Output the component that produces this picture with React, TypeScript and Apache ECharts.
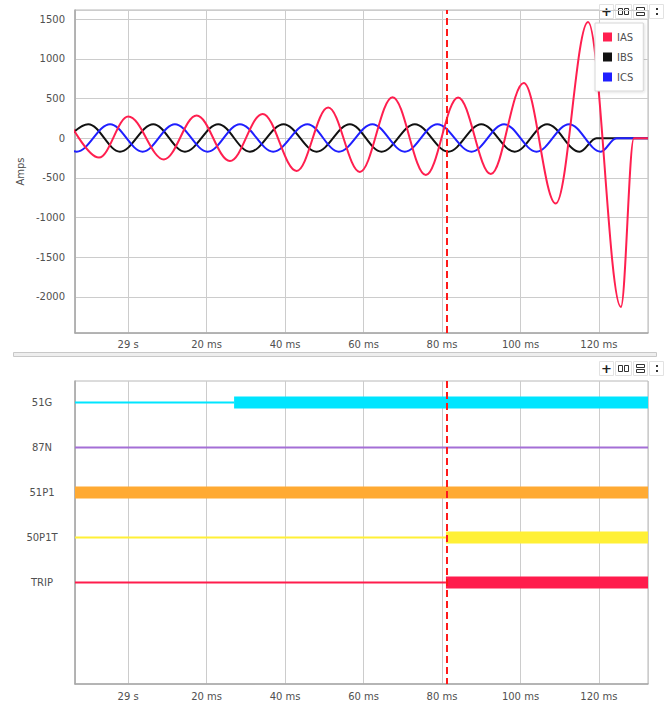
import React, { useEffect, useRef } from 'react';
import * as echarts from 'echarts';

// ---- time axis (ms) ----
const X_MIN = -13.55;
const X_MAX = 132.5;
const ZERO_LABEL = '29 s';
const CURSOR_MS = 81.1;

// ---- analog channels: [time ms, amps] read at extrema / flat points ----
const IAS_NAME = 'IAS';
const IBS_NAME = 'IBS';
const ICS_NAME = 'ICS';

const IAS: [number, number][] = [
  [-15.7, 265], [-7.44, -245], [0.03, 273], [9.12, -268], [17.45, 286],
  [25.94, -288], [34.27, 306], [42.93, -413], [50.98, 385], [59.06, -425],
  [67.39, 515], [75.87, -465], [84.1, 514], [92.43, -453], [100.84, 695],
  [108.99, -823], [117.22, 1463], [125.59, -2127], [128.9, 0], [132.5, 0],
];

const IBS: [number, number][] = [
  [-18.45, -170], [-10.17, 175], [-2.09, -170], [6.39, 175], [14.47, -170],
  [22.96, 175], [31.03, -170], [39.6, 175], [48.03, -170], [56.51, 175],
  [64.59, -170], [73.07, 175], [81.6, -170], [90.0, 175], [98.52, -170],
  [106.78, 175], [115.08, -172], [119.36, 0], [132.5, 0],
];

const ICS: [number, number][] = [
  [-21.4, 175], [-13.12, -170], [-4.61, 175], [3.69, -170], [11.92, 175],
  [20.25, -170], [28.48, 175], [36.97, -170], [45.68, 175], [53.71, -170],
  [62.24, 175], [70.52, -170], [78.8, 175], [87.52, -170], [95.82, 175],
  [104.08, -170], [112.38, 175], [120.46, -170], [124.46, 0], [132.5, 0],
];

const Y_MIN = -2455;
const Y_MAX = 1615;

// ---- digital channels: transitions [time ms, state] ----
const SIGNALS = ['51G', '87N', '51P1', '50P1T', 'TRIP'];
const SIG_51G: [number, number][] = [[-13.55, 0], [27.0, 1]];
const SIG_87N: [number, number][] = [[-13.55, 0]];
const SIG_51P1: [number, number][] = [[-13.55, 1]];
const SIG_50P1T: [number, number][] = [[-13.55, 0], [81.0, 1]];
const SIG_TRIP: [number, number][] = [[-13.55, 0], [81.0, 1]];
const SIGNAL_STATES = [SIG_51G, SIG_87N, SIG_51P1, SIG_50P1T, SIG_TRIP];
const SIGNAL_COLORS = ['#00e5ff', '#a46fd6', '#ffaa33', '#fff036', '#ff1c4c'];

const FONT = '"DejaVu Sans", sans-serif';
const LABEL_COLOR = '#505050';
const GRID_LINE = '#cccccc';
const AXIS_LINE = '#a8a8a8';

const xAxisFor = (gridIndex: number, margin: number) => ({
  type: 'value',
  gridIndex,
  min: X_MIN,
  max: X_MAX,
  splitNumber: 7,
  axisLine: { show: true, onZero: false, lineStyle: { color: AXIS_LINE, width: 1.5 } },
  axisTick: { show: false },
  axisLabel: {
    color: LABEL_COLOR,
    fontSize: 10,
    fontFamily: FONT,
    margin,
    showMinLabel: false,
    showMaxLabel: false,
    formatter: (v: number) => (Math.abs(v) < 1e-9 ? ZERO_LABEL : `${v} ms`),
  },
  splitLine: { show: true, lineStyle: { color: GRID_LINE, width: 1 } },
});

const cursorMarkLine = {
  silent: true,
  symbol: ['none', 'none'],
  label: { show: false },
  z: 10,
  lineStyle: { color: '#ff1a1a', type: [7, 4], width: 2 },
  data: [{ xAxis: CURSOR_MS }],
};

const toolboxGraphics = (y0: number) => [
  { type: 'rect', shape: { x: 599.5, y: y0 + 0.5, width: 14, height: 14 }, style: { fill: '#fff', stroke: '#e2e2e2', lineWidth: 1 } },
  { type: 'text', x: 606.5, y: y0 + 7.5, style: { text: '+', fill: '#222', font: 'bold 13px "DejaVu Sans"', align: 'center', verticalAlign: 'middle' } },
  { type: 'rect', shape: { x: 615.5, y: y0 + 0.5, width: 16, height: 14 }, style: { fill: '#fff', stroke: '#e2e2e2', lineWidth: 1 } },
  { type: 'rect', shape: { x: 618.5, y: y0 + 4.5, width: 4, height: 6 }, style: { fill: 'none', stroke: '#333', lineWidth: 1 } },
  { type: 'rect', shape: { x: 624.5, y: y0 + 4.5, width: 4, height: 6 }, style: { fill: 'none', stroke: '#333', lineWidth: 1 } },
  { type: 'rect', shape: { x: 633.5, y: y0 + 0.5, width: 14, height: 14 }, style: { fill: '#fff', stroke: '#e2e2e2', lineWidth: 1 } },
  { type: 'rect', shape: { x: 636.5, y: y0 + 3.5, width: 8, height: 3 }, style: { fill: 'none', stroke: '#333', lineWidth: 1 } },
  { type: 'rect', shape: { x: 636.5, y: y0 + 8.5, width: 8, height: 3 }, style: { fill: 'none', stroke: '#333', lineWidth: 1 } },
  { type: 'rect', shape: { x: 649.5, y: y0 + 0.5, width: 14, height: 14 }, style: { fill: '#fff', stroke: '#e2e2e2', lineWidth: 1 } },
  { type: 'rect', shape: { x: 656, y: y0 + 4, width: 2, height: 2 }, style: { fill: '#333' } },
  { type: 'rect', shape: { x: 656, y: y0 + 9, width: 2, height: 2 }, style: { fill: '#333' } },
];

function buildSignalSeries(): any[] {
  const out: any[] = [];
  SIGNAL_STATES.forEach((states, i) => {
    const row = i + 1;
    states.forEach(([t, s], k) => {
      const tEnd = k + 1 < states.length ? states[k + 1][0] : X_MAX;
      out.push({
        type: 'line',
        name: `${SIGNALS[i]}-${k}`,
        xAxisIndex: 1,
        yAxisIndex: 1,
        symbol: 'none',
        showSymbol: false,
        silent: true,
        color: SIGNAL_COLORS[i],
        lineStyle: { color: SIGNAL_COLORS[i], width: s ? 12 : 2, cap: 'butt' },
        data: [[t, row], [tEnd, row]],
      });
    });
  });
  out[out.length - 1].markLine = cursorMarkLine;
  return out;
}

export default function App() {
  const ref = useRef<HTMLDivElement>(null);

  useEffect(() => {
    if (!ref.current) return;
    const chart = echarts.init(ref.current, null, { renderer: 'svg' });

    const wave = (name: string, color: string, data: [number, number][], extra: any = {}) => ({
      type: 'line',
      name,
      xAxisIndex: 0,
      yAxisIndex: 0,
      color,
      symbol: 'none',
      showSymbol: false,
      smooth: 0.36,
      smoothMonotone: 'x',
      lineStyle: { color, width: 2 },
      data,
      ...extra,
    });

    chart.setOption({
      animation: false,
      backgroundColor: '#ffffff',
      textStyle: { fontFamily: FONT },
      grid: [
        { left: 75, top: 10, width: 573, height: 323, show: true, borderColor: '#b8b8b8', borderWidth: 1, backgroundColor: 'transparent' },
        { left: 75, top: 381, width: 573, height: 303, show: true, borderColor: '#b8b8b8', borderWidth: 1, backgroundColor: 'transparent' },
      ],
      legend: {
        data: [IAS_NAME, IBS_NAME, ICS_NAME],
        orient: 'vertical',
        left: 595,
        top: 23,
        icon: 'rect',
        itemWidth: 9,
        itemHeight: 9,
        itemGap: 10,
        padding: [9, 10, 9, 8],
        backgroundColor: '#ffffff',
        borderColor: '#d6d6d6',
        borderWidth: 1,
        shadowBlur: 3,
        shadowColor: 'rgba(0,0,0,0.12)',
        shadowOffsetX: 1,
        shadowOffsetY: 1,
        selectedMode: false,
        textStyle: { color: LABEL_COLOR, fontSize: 10, fontFamily: FONT },
      },
      xAxis: [xAxisFor(0, 6), xAxisFor(1, 7)],
      yAxis: [
        {
          type: 'value',
          gridIndex: 0,
          min: Y_MIN,
          max: Y_MAX,
          splitNumber: 8,
          name: 'Amps',
          nameLocation: 'middle',
          nameGap: 43,
          nameTextStyle: { color: LABEL_COLOR, fontSize: 10, fontFamily: FONT },
          axisLine: { show: true, onZero: false, lineStyle: { color: AXIS_LINE, width: 1.5 } },
          axisTick: { show: false },
          axisLabel: {
            color: LABEL_COLOR, fontSize: 10, fontFamily: FONT, margin: 10,
            showMinLabel: false, showMaxLabel: false,
            formatter: (v: number) => String(v),
          },
          splitLine: { show: true, lineStyle: { color: GRID_LINE, width: 1 } },
        },
        {
          type: 'value',
          gridIndex: 1,
          min: 0.52,
          max: 7.26,
          inverse: true,
          axisLine: { show: true, onZero: false, lineStyle: { color: AXIS_LINE, width: 1.5 } },
          axisTick: { show: false },
          splitLine: { show: false },
          axisLabel: {
            color: LABEL_COLOR,
            fontSize: 10,
            fontFamily: FONT,
            align: 'center',
            margin: 33,
            customValues: [1, 2, 3, 4, 5],
            formatter: (v: number) => SIGNALS[Math.round(v) - 1] ?? '',
          },
        },
      ],
      graphic: [
        { type: 'rect', shape: { x: 13.5, y: 352.5, width: 643, height: 4 }, style: { fill: '#eeeeee', stroke: '#c8c8c8', lineWidth: 1 } },
        ...toolboxGraphics(4),
        ...toolboxGraphics(361),
      ],
      series: [
        wave(IBS_NAME, '#111111', IBS),
        wave(ICS_NAME, '#1f1fff', ICS),
        wave(IAS_NAME, '#ff1f4f', IAS, { markLine: cursorMarkLine }),
        ...buildSignalSeries(),
      ],
    });

    return () => chart.dispose();
  }, []);

  return (
    <div
      ref={ref}
      style={{ position: 'absolute', left: 0, top: 0, width: 668, height: 702, background: '#fff' }}
    />
  );
}
